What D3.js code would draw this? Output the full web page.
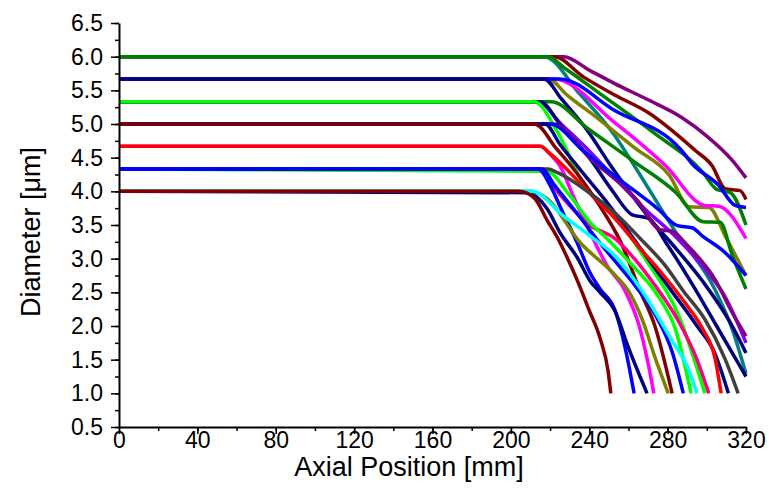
<!DOCTYPE html>
<html>
<head>
<meta charset="utf-8">
<script src="https://cdn.jsdelivr.net/npm/d3@7"></script>
<style>
  body { margin: 0; background: #fff; }
  svg { display: block; font-family: Arial, 'Liberation Sans', sans-serif; }
</style>
</head>
<body>
<svg width="769" height="493"></svg>
<script>
const X_TICKS = [0, 40, 80, 120, 160, 200, 240, 280, 320]
const Y_TICKS = [0.5, 1.0, 1.5, 2.0, 2.5, 3.0, 3.5, 4.0, 4.5, 5.0, 5.5, 6.0, 6.5]

// [axial position mm, diameter um]
// d0 = 6.0
const d60Purple = [[0, 6], [227, 6], [240, 5.8], [253, 5.6], [270, 5.36], [287, 5.1], [300, 4.82], [313, 4.46], [320, 4.2]]
const d60Wine = [[0, 6], [222, 6], [237, 5.7], [253, 5.43], [270, 5.17], [294, 4.61], [302.7, 4.38], [309.3, 4.04], [317, 4.01], [320, 3.88]]
const d60Teal = [[0, 6], [217, 6], [235, 5.45], [253, 4.83], [263, 4.38], [284, 3.4], [304, 2.55], [313, 1.95], [320, 1.29]]
const d60Green = [[0, 6], [219, 6], [227, 5.84], [246, 5.44], [272, 4.89], [298, 4.28], [305, 4.03], [312, 3.98], [320, 3.5]]
// d0 = 5.67
const d567Olive = [[0, 5.67], [219, 5.67], [228.7, 5.43], [244.5, 5.08], [263.4, 4.64], [280.8, 4.24], [291, 3.77], [301, 3.76], [310, 3.3], [320, 2.75]]
const d567Magenta = [[0, 5.67], [222, 5.67], [253, 5.02], [279, 4.38], [299, 3.79], [306, 3.78], [320, 3.3]]
const d567Blue = [[0, 5.67], [225, 5.67], [253, 5.2], [287, 4.61], [292.5, 4.41], [306, 4.09], [314.5, 3.79], [320, 3.76]]
const d567Navy = [[0, 5.67], [217, 5.67], [225.6, 5.38], [239.4, 4.89], [251, 4.38], [263.4, 3.88], [270.5, 3.61], [284.3, 3.15], [298, 2.66], [312, 2.05], [320, 1.6]]
// d0 = 5.33
const d533Violet = [[0, 5.33], [214, 5.33], [225, 5.02], [240, 4.6], [253, 4.2], [268, 3.75], [285, 3.3], [299, 2.85], [309, 2.45], [320, 1.75]]
const d533Green = [[0, 5.33], [220.5, 5.33], [239.4, 4.93], [263.4, 4.43], [284.3, 3.98], [298.1, 3.55], [306.8, 3.54], [313, 3.05], [320, 2.55]]
const d533Navy = [[0, 5.33], [215, 5.33], [225, 5.0], [240, 4.5], [252, 4.0], [262, 3.65], [270, 3.6], [280, 3.2], [293, 2.6], [305, 2.0], [314, 1.55], [320, 1.25]]
const d533Lime = [[0, 5.33], [212, 5.33], [223.6, 4.89], [237.4, 4.09], [253, 3.64], [268.5, 3.0], [286.4, 2.1], [299, 1.0]]
// d0 = 5.0
const d50Purple = [[0, 5], [222, 5], [240, 4.5], [265, 3.85], [276, 3.43], [282, 3.41], [290, 3.2], [304, 2.7], [313, 2.2], [320, 1.85]]
const d50Blue = [[0, 5], [220, 5], [237, 4.6], [253, 4.23], [275, 3.74], [285, 3.49], [292.5, 3.46], [297.6, 3.34], [309, 3.1], [320, 2.75]]
const d50Navy = [[0, 5], [217.5, 5], [225, 4.7], [236, 4.3], [250, 3.8], [265, 3.2], [280, 2.6], [295, 2.0], [304, 1.6], [311, 1.0]]
const d50Wine = [[0, 5], [212, 5], [214.4, 4.97], [222, 4.68], [230.7, 4.38], [245, 3.8], [256, 3.25], [266, 2.52], [273.5, 2.0], [282.3, 1.0]]
// d0 = 4.67
const d467Magenta = [[0, 4.67], [215, 4.67], [220, 4.55], [225, 4.38], [231.7, 3.94], [240.4, 3.39], [249, 2.9], [258.3, 2.52], [265.5, 2.0], [270, 1.45], [273, 1.0]]
const d467Red = [[0, 4.67], [215, 4.67], [220, 4.56], [241, 3.95], [253, 3.6], [266, 3.15], [278, 2.75], [290, 2.3], [298, 1.95], [304.2, 1.52], [307.3, 1.0]]
// d0 = 4.33
const d433Pink = [[0, 4.33], [214, 4.33], [225, 3.95], [240, 3.5], [253, 3.3], [263, 3.0], [273.6, 2.6], [285, 2.1], [295, 1.5], [301, 1.0]]
const d433Lime = [[0, 4.33], [218, 4.3], [230, 3.94], [240.4, 3.54], [249, 3.3], [262, 2.9], [275, 2.45], [284, 1.95], [292, 1.0]]
const d433Gray = [[0, 4.33], [219, 4.33], [223.6, 4.28], [240, 3.98], [253, 3.68], [266, 3.3], [278.7, 2.9], [288, 2.52], [299, 2.1], [309, 1.53], [316, 1.0]]
const d433BlueB = [[0, 4.33], [216, 4.33], [222, 4.1], [233, 3.7], [245, 3.25], [255, 2.9], [263.4, 2.6], [274, 2.15], [282.5, 1.6], [288, 1.0]]
const d433BlueA = [[0, 4.33], [214, 4.33], [220, 4.09], [226.6, 3.68], [233.8, 3.24], [240.4, 2.79], [245.5, 2.55], [253.2, 2.23], [258.3, 1.68], [262.9, 1.0]]
// d0 = 4.0
const d40Navy = [[0, 4], [208, 3.98], [218.5, 3.74], [225, 3.39], [234, 3.01], [240.4, 2.67], [245.5, 2.5], [253, 2.23], [260, 1.68], [269.5, 1.0]]
const d40Olive = [[0, 4], [210, 4], [218.5, 3.89], [235.3, 3.24], [252, 2.79], [260, 2.52], [267, 2.1], [273.6, 1.53], [280.3, 1.0]]
const d40Cyan = [[0, 4], [211, 4], [226.6, 3.64], [240.4, 3.34], [253.2, 3.04], [267, 2.52], [282.3, 1.78], [290, 1.4], [295, 1.0]]
const d40Wine = [[0, 4], [204, 4], [212, 3.9], [218.5, 3.57], [224, 3.3], [229, 3.0], [234, 2.67], [240, 2.23], [245.5, 1.82], [249.6, 1.33], [251, 1.0]]

const SERIES = [
  { pts: d60Purple, color: '#800080' },
  { pts: d60Wine, color: '#800000' },
  { pts: d60Teal, color: '#008080' },
  { pts: d60Green, color: '#008000' },
  { pts: d567Olive, color: '#808000' },
  { pts: d567Magenta, color: '#ff00ff' },
  { pts: d567Blue, color: '#0000ff' },
  { pts: d567Navy, color: '#000080' },
  { pts: d533Violet, color: '#8000ff' },
  { pts: d533Green, color: '#008000' },
  { pts: d533Navy, color: '#000080' },
  { pts: d533Lime, color: '#00ff00' },
  { pts: d50Purple, color: '#800080' },
  { pts: d50Blue, color: '#0000ff' },
  { pts: d50Navy, color: '#000080' },
  { pts: d50Wine, color: '#800000' },
  { pts: d467Magenta, color: '#ff00ff' },
  { pts: d467Red, color: '#ff0000' },
  { pts: d433Pink, color: '#ff0080' },
  { pts: d433Lime, color: '#00ff00' },
  { pts: d433Gray, color: '#404040' },
  { pts: d433BlueB, color: '#0000ff' },
  { pts: d433BlueA, color: '#0000ff' },
  { pts: d40Navy, color: '#000080' },
  { pts: d40Olive, color: '#808000' },
  { pts: d40Cyan, color: '#00ffff' },
  { pts: d40Wine, color: '#800000' }
]

const margin = { top: 23, right: 23, bottom: 66, left: 119 }
const width = 769 - margin.left - margin.right
const height = 493 - margin.top - margin.bottom

const svg = d3.select('svg')
const g = svg.append('g').attr('transform', `translate(${margin.left},${margin.top})`)

const x = d3.scaleLinear().domain([0, 320]).range([0, width])
const y = d3.scaleLinear().domain([0.5, 6.5]).range([height, 0])

const line = d3.line()
  .x(d => x(d[0]))
  .y(d => y(d[1]))
  .curve(d3.curveMonotoneX)

g.append('g')
  .attr('class', 'lines')
  .selectAll('path')
  .data(SERIES)
  .enter().append('path')
  .attr('d', d => line(d.pts))
  .attr('fill', 'none')
  .attr('stroke', d => d.color)
  .attr('stroke-width', 3.5)
  .attr('stroke-linejoin', 'round')

// minor ticks first, then the labelled axis on top
const xMinor = d3.range(0, 321, 20)
const yMinor = d3.range(0.5, 6.51, 0.25)

g.append('g')
  .attr('transform', `translate(0,${height})`)
  .call(d3.axisBottom(x).tickValues(xMinor).tickSize(4).tickFormat(''))
  .call(a => a.select('.domain').remove())
g.append('g')
  .call(d3.axisLeft(y).tickValues(yMinor).tickSize(4).tickFormat(''))
  .call(a => a.select('.domain').remove())

const xAxis = g.append('g')
  .attr('transform', `translate(0,${height})`)
  .call(d3.axisBottom(x).tickValues(X_TICKS).tickSize(7).tickSizeOuter(0))
xAxis.selectAll('.tick text').attr('y', 5)

const yAxis = g.append('g')
  .call(d3.axisLeft(y).tickValues(Y_TICKS).tickSize(8).tickSizeOuter(0).tickPadding(8).tickFormat(d3.format('.1f')))

svg.selectAll('.tick line').attr('stroke', '#000').attr('stroke-width', 1.5)
svg.selectAll('.domain').attr('stroke', '#000').attr('stroke-width', 2)
svg.selectAll('.tick text')
  .attr('fill', '#000')
  .style('font-size', '23px')
  .style('font-family', 'Arial, "Liberation Sans", sans-serif')

svg.append('text')
  .attr('x', 409)
  .attr('y', 476)
  .attr('text-anchor', 'middle')
  .style('font-size', '27px')
  .text('Axial Position [mm]')

svg.append('text')
  .attr('transform', 'translate(40,232) rotate(-90)')
  .attr('text-anchor', 'middle')
  .style('font-size', '27px')
  .text('Diameter [μm]')
</script>
</body>
</html>
